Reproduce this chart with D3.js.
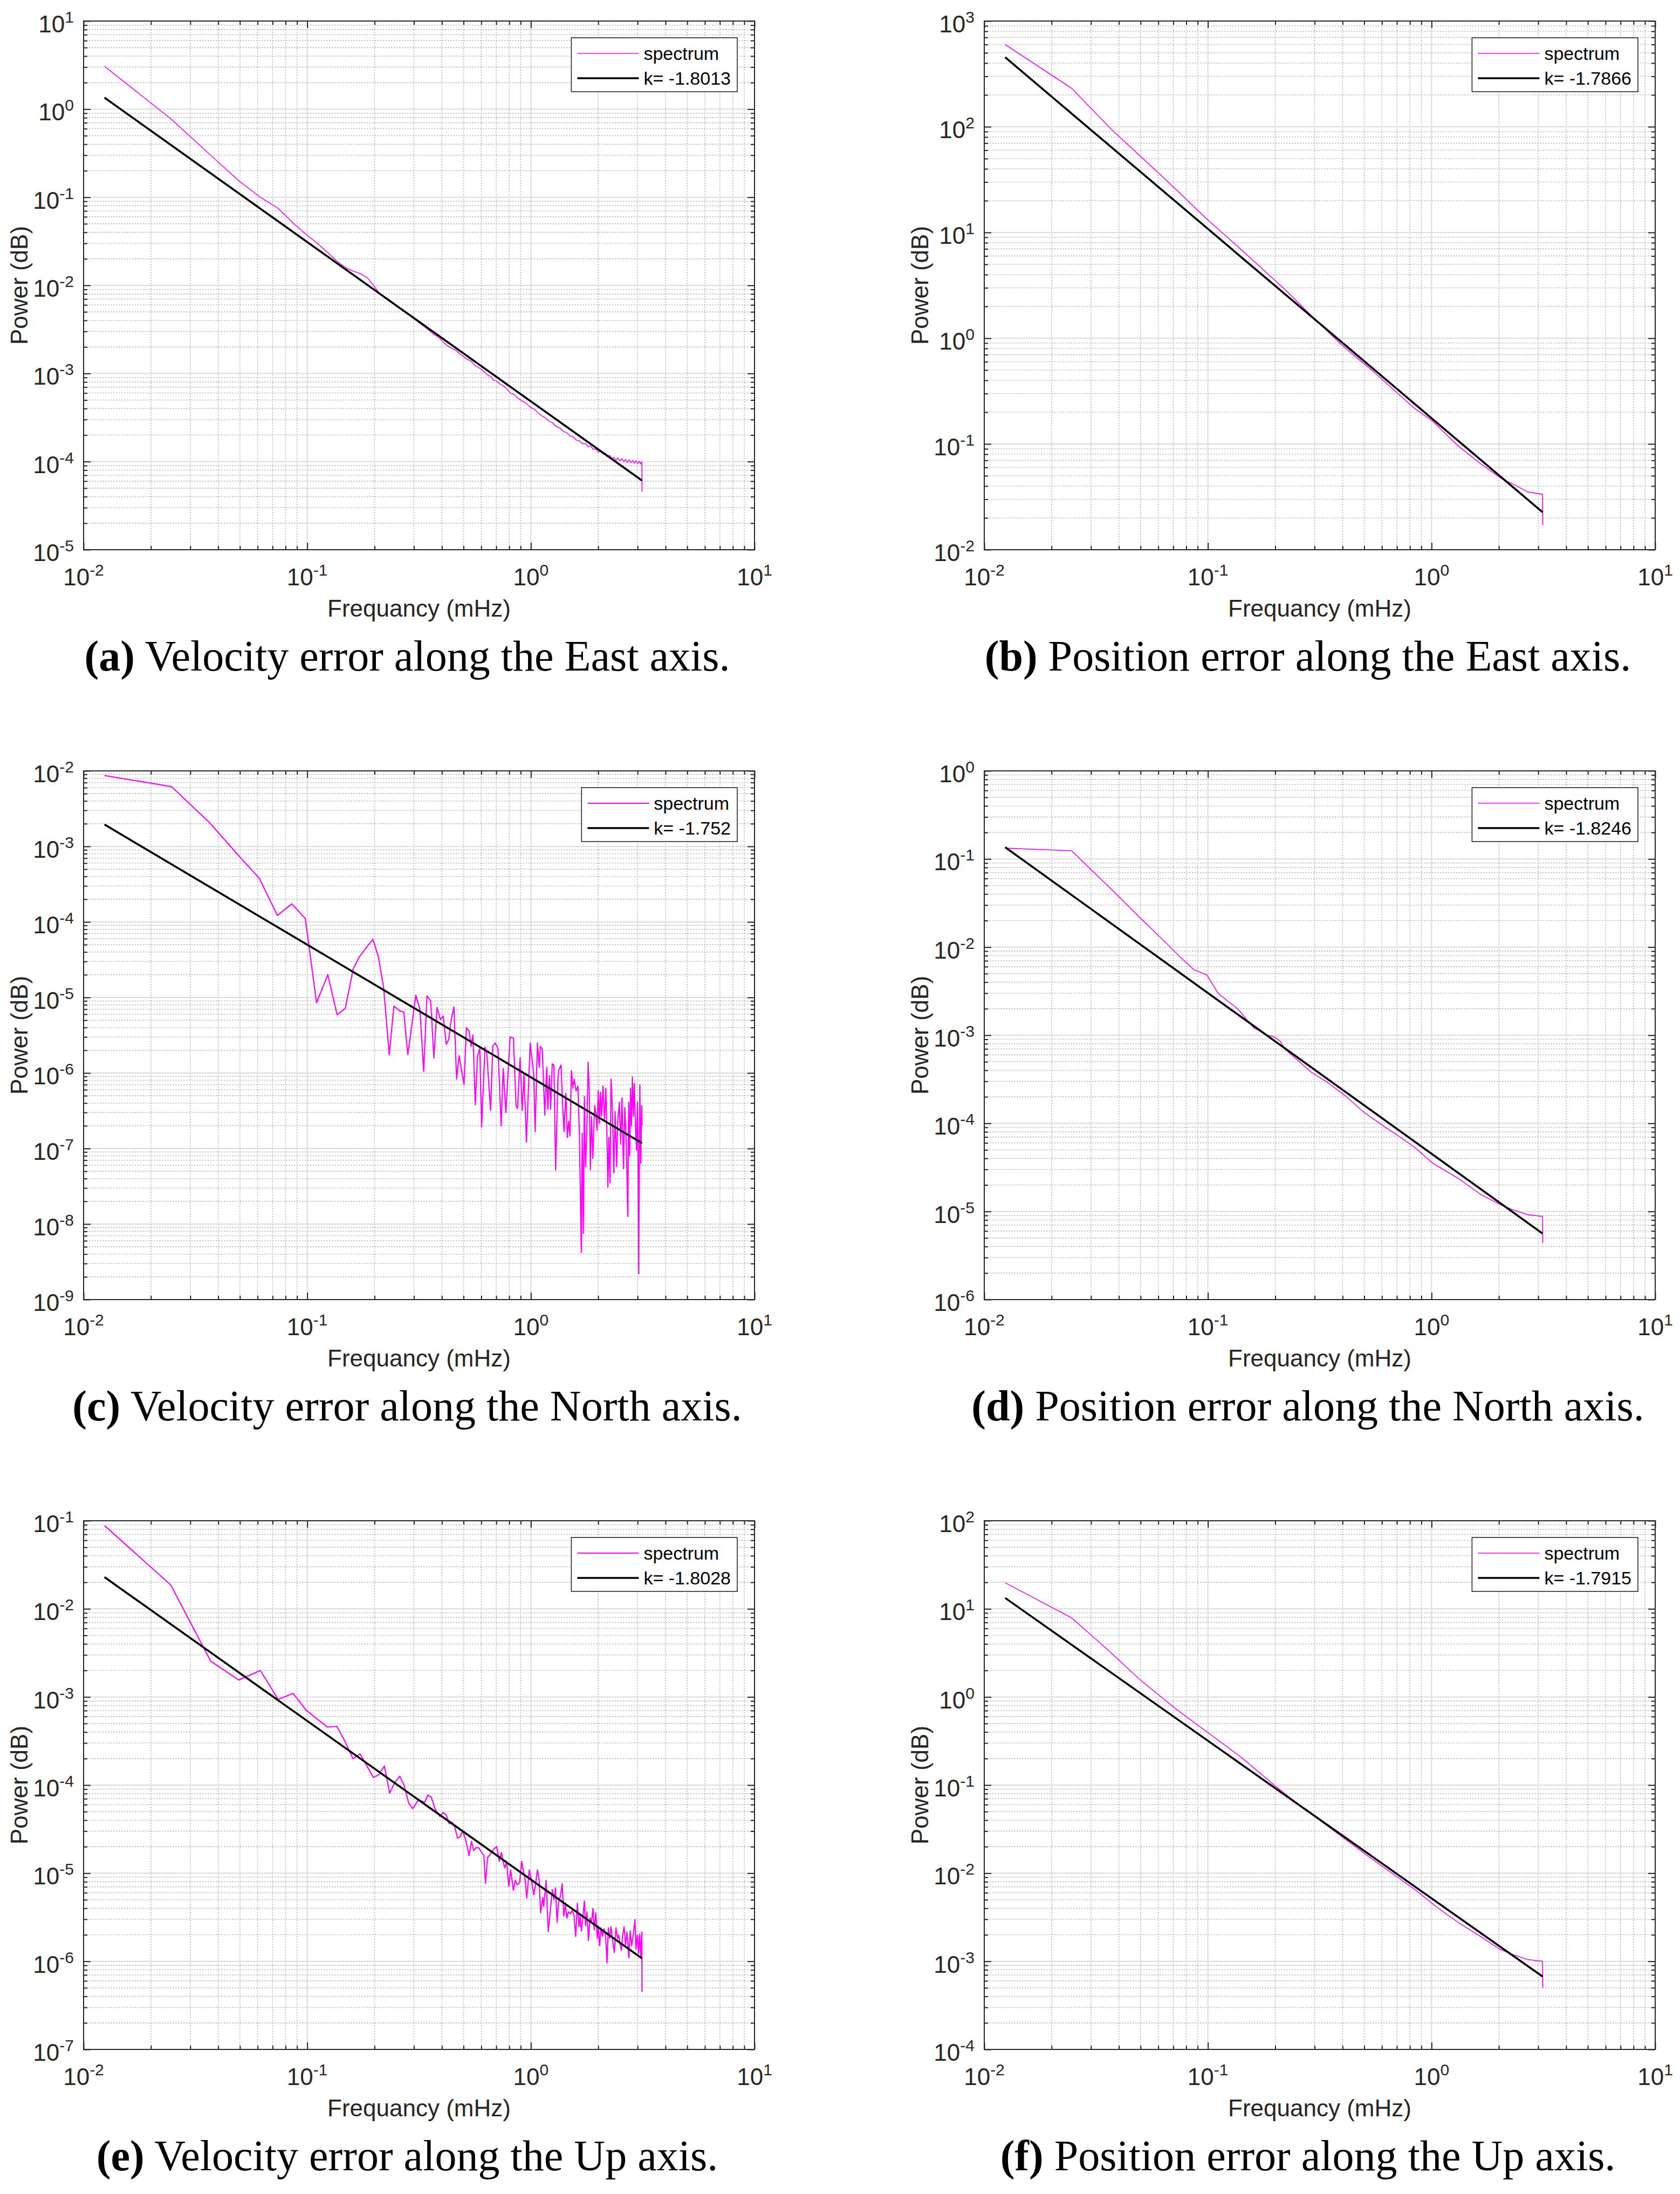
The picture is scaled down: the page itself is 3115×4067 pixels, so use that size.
<!DOCTYPE html>
<html>
<head>
<meta charset="utf-8">
<script src="https://cdn.jsdelivr.net/npm/d3@7"></script>
<style>
  body { margin: 0; background: #fff; }
  svg { display: block; background: #fff; }
  .sans { font-family: "Liberation Sans", Arial, Helvetica, sans-serif; }
  .caption { font-family: "Liberation Serif", "Times New Roman", serif; fill: #000; }
</style>
</head>
<body>
<svg id="chart" width="3115" height="4067"></svg>
<script>
// Values: [frequency in mHz, power]
const velEastSpectrum = [
  [0.0124, 3.07], [0.0245, 0.78], [0.037, 0.30], [0.0497, 0.152], [0.0617, 0.10], [0.0741, 0.075],
  [0.0864, 0.051], [0.0988, 0.038], [0.111, 0.030], [0.1235, 0.0235], [0.136, 0.0187], [0.148, 0.0160],
  [0.160, 0.0146], [0.173, 0.0136], [0.185, 0.0123], [0.198, 0.0100], [0.210, 0.0081], [0.222, 0.0072],
  [0.26, 0.0054], [0.30, 0.0042], [0.35, 3.1e-3], [0.37, 2.75e-3], [0.385, 2.62e-3], [0.40, 2.35e-3],
  [0.42, 2.1e-3], [0.44, 1.95e-3], [0.46, 1.85e-3], [0.48, 1.68e-3], [0.50, 1.55e-3], [0.52, 1.45e-3],
  [0.54, 1.38e-3], [0.56, 1.24e-3], [0.58, 1.18e-3], [0.60, 1.12e-3], [0.62, 1.04e-3], [0.64, 9.6e-4],
  [0.66, 9.3e-4], [0.68, 8.4e-4], [0.70, 8.3e-4], [0.72, 7.7e-4], [0.75, 7.3e-4], [0.78, 6.7e-4],
  [0.81, 6.0e-4], [0.84, 5.8e-4], [0.87, 5.3e-4], [0.90, 5.0e-4], [0.93, 4.75e-4], [0.96, 4.5e-4],
  [1.0, 4.1e-4], [1.04, 3.9e-4], [1.08, 3.55e-4], [1.12, 3.3e-4], [1.16, 3.15e-4], [1.2, 2.9e-4],
  [1.25, 2.75e-4], [1.3, 2.5e-4], [1.35, 2.4e-4], [1.4, 2.2e-4], [1.45, 2.12e-4], [1.5, 1.95e-4],
  [1.55, 1.9e-4], [1.6, 1.75e-4], [1.65, 1.72e-4], [1.7, 1.6e-4], [1.75, 1.62e-4], [1.8, 1.48e-4],
  [1.85, 1.5e-4], [1.9, 1.38e-4], [1.95, 1.40e-4], [2.0, 1.28e-4], [2.05, 1.32e-4], [2.1, 1.22e-4],
  [2.15, 1.25e-4], [2.2, 1.14e-4], [2.25, 1.18e-4], [2.3, 1.08e-4], [2.35, 1.12e-4], [2.4, 1.04e-4],
  [2.45, 1.1e-4], [2.5, 1.02e-4], [2.55, 1.08e-4], [2.6, 1.0e-4], [2.65, 1.06e-4], [2.7, 9.8e-5],
  [2.75, 1.05e-4], [2.8, 9.7e-5], [2.85, 1.03e-4], [2.9, 9.6e-5], [2.95, 1.02e-4], [3.0, 9.5e-5],
  [3.05, 1.01e-4], [3.1, 9.4e-5], [3.13, 1.0e-4], [3.14, 4.6e-5]
];
const velEastFit = [[0.0124, 1.35], [3.14, 6.1e-5]];

const posEastSpectrum = [
  [0.0124, 600], [0.0246, 231], [0.0297, 153], [0.0371, 94], [0.0485, 55.7], [0.0634, 33],
  [0.099, 13.4], [0.1415, 6.84], [0.221, 2.89], [0.289, 1.65], [0.395, 0.87], [0.541, 0.497],
  [0.844, 0.215], [1.009, 0.165], [1.318, 0.0955], [1.648, 0.0656], [2.06, 0.0469], [2.356, 0.041],
  [2.69, 0.0352], [3.13, 0.0335], [3.14, 0.0171]
];
const posEastFit = [[0.0124, 454], [3.14, 0.0226]];

const velNorthSpectrum = [
  [0.0124, 8.7e-3], [0.0247, 6.2e-3], [0.0365, 2.08e-3], [0.0505, 7.0e-4], [0.061, 3.8e-4],
  [0.0735, 1.22e-4], [0.0853, 1.74e-4], [0.098, 1.11e-4], [0.110, 8.5e-6], [0.1235, 2.0e-5],
  [0.136, 5.9e-6], [0.148, 7.2e-6], [0.1605, 2.4e-5], [0.171, 3.47e-5], [0.185, 4.7e-5],
  [0.1965, 5.9e-5], [0.208, 3.47e-5], [0.2196, 1.33e-5], [0.2326, 1.75e-6], [0.244, 7.7e-6],
  [0.2585, 6.7e-6], [0.27, 6.4e-6], [0.2816, 1.75e-6], [0.3058, 1.07e-5], [0.319, 7.0e-6],
  [0.3314, 1.05e-6], [0.3429, 1.05e-5], [0.3565, 9.0e-6], [0.3682, 1.58e-6], [0.3803, 7.4e-6],
  [0.3937, 5.1e-6], [0.4052, 5.7e-6], [0.4184, 2.4e-6], [0.4292, 2.8e-6], [0.439, 4.9e-6],
  [0.4528, 7.5e-6], [0.4652, 8.3e-7], [0.4776, 1.7e-6], [0.5021, 7.0e-7], [0.5147, 4.0e-6],
  [0.5297, 3.6e-6], [0.54, 2.25e-6], [0.5504, 3.2e-6], [0.564, 3.8e-7], [0.5773, 1.7e-6],
  [0.5906, 2.1e-6], [0.602, 1.94e-7], [0.6233, 2.2e-6], [0.6353, 1.8e-6], [0.66, 3.2e-7],
  [0.6755, 2.3e-6], [0.6925, 2.5e-6], [0.7126, 2.1e-6], [0.7362, 2.0e-7], [0.7518, 1.15e-6],
  [0.7723, 3.0e-7], [0.807, 3.0e-6], [0.8353, 2.9e-6], [0.8581, 3.7e-7], [0.871, 3.4e-7],
  [0.895, 1.6e-6], [0.9139, 3.2e-7], [0.9315, 9.6e-7], [0.955, 1.22e-7], [0.9924, 2.5e-6],
  [1.029, 9.6e-7], [1.045, 1.68e-7], [1.069, 2.5e-6], [1.09, 1.19e-6], [1.102, 2.25e-6],
  [1.124, 2.1e-6], [1.154, 2.76e-7], [1.177, 1.19e-6], [1.19, 3.3e-7], [1.211, 9.2e-7],
  [1.225, 3.3e-7], [1.246, 1.32e-6], [1.268, 1.27e-6], [1.29, 5.2e-8], [1.32, 8.3e-7],
  [1.332, 1.1e-6], [1.363, 1.27e-6], [1.384, 4.1e-7], [1.406, 1.68e-7], [1.433, 5.4e-7],
  [1.455, 1.4e-7], [1.475, 2.3e-7], [1.495, 1.46e-7], [1.518, 1.07e-6], [1.541, 6.3e-7],
  [1.562, 8.3e-7], [1.592, 5.8e-7], [1.623, 6.7e-7], [1.648, 1.5e-7], [1.68, 4.2e-9],
  [1.696, 1.6e-7], [1.716, 7.5e-9], [1.735, 4.9e-7], [1.755, 5.8e-8], [1.775, 1.3e-7],
  [1.803, 1.39e-6], [1.824, 5.4e-7], [1.845, 5.2e-8], [1.866, 2.67e-7], [1.891, 7.4e-8],
  [1.928, 3.7e-7], [1.954, 2.9e-7], [1.977, 1.74e-7], [2.0, 5.8e-7], [2.023, 2.15e-7],
  [2.046, 5.6e-7], [2.07, 2.67e-7], [2.101, 6.7e-7], [2.134, 2.3e-7], [2.163, 6.3e-7],
  [2.184, 2.0e-7], [2.209, 3.1e-8], [2.234, 1.4e-7], [2.26, 3.5e-8], [2.282, 8.3e-7],
  [2.313, 3.5e-7], [2.349, 4.8e-8], [2.38, 3.1e-7], [2.416, 5.8e-8], [2.449, 2.5e-7],
  [2.487, 4.1e-7], [2.521, 1.14e-7], [2.555, 4.7e-7], [2.594, 5.4e-8], [2.63, 3.5e-7],
  [2.67, 1.22e-7], [2.711, 1.26e-8], [2.737, 4.1e-7], [2.763, 8.0e-8], [2.79, 6.3e-7],
  [2.816, 2.0e-7], [2.844, 8.9e-7], [2.871, 2.67e-7], [2.899, 7.2e-7], [2.938, 1.74e-7],
  [2.967, 9.5e-8], [2.995, 4.1e-7], [3.012, 1.74e-7], [3.034, 2.2e-9], [3.07, 7.0e-7],
  [3.1, 6.4e-8], [3.129, 3.7e-7], [3.14, 2.0e-7]
];
const velNorthFit = [[0.0124, 1.95e-3], [3.14, 1.18e-7]];

const posNorthSpectrum = [
  [0.0124, 0.133], [0.0246, 0.124], [0.037, 0.0454], [0.0494, 0.0219], [0.0617, 0.0127],
  [0.0741, 0.0080], [0.0864, 0.00555], [0.0988, 0.00485], [0.111, 0.0030], [0.1235, 0.00241],
  [0.1358, 0.0020], [0.148, 0.00154], [0.1605, 0.00121], [0.173, 0.0011], [0.185, 0.00100],
  [0.1976, 0.00096], [0.21, 0.00086], [0.222, 0.00069], [0.289, 3.83e-4], [0.346, 2.87e-4],
  [0.413, 2.04e-4], [0.494, 1.36e-4], [0.618, 9.1e-5], [0.706, 7.3e-5], [0.844, 5.3e-5],
  [1.009, 3.55e-5], [1.318, 2.37e-5], [1.648, 1.58e-5], [2.01, 1.21e-5], [2.30, 1.05e-5],
  [2.69, 9.2e-6], [3.13, 8.8e-6], [3.14, 4.4e-6]
];
const posNorthFit = [[0.0124, 0.136], [3.14, 5.6e-6]];

const velUpSpectrum = [
  [0.0124, 0.0882], [0.0245, 0.01875], [0.037, 2.55e-3], [0.0494, 1.56e-3], [0.0617, 2.0e-3],
  [0.0741, 9.4e-4], [0.0864, 1.1e-3], [0.0988, 7.1e-4], [0.111, 5.6e-4], [0.1234, 4.55e-4],
  [0.1355, 4.65e-4], [0.1469, 3.2e-4], [0.16, 2.0e-4], [0.1722, 2.26e-4], [0.1816, 1.78e-4],
  [0.1977, 1.22e-4], [0.2086, 1.31e-4], [0.2213, 1.65e-4], [0.2335, 8.1e-5], [0.2456, 1.06e-4],
  [0.259, 1.26e-4], [0.271, 1.0e-4], [0.2838, 6.3e-5], [0.296, 5.4e-5], [0.314, 6.8e-5],
  [0.335, 6.4e-5], [0.346, 7.7e-5], [0.3583, 7.3e-5], [0.374, 5.3e-5], [0.392, 4.4e-5],
  [0.4055, 4.9e-5], [0.418, 4.6e-5], [0.431, 3.66e-5], [0.443, 3.8e-5], [0.4545, 3.5e-5],
  [0.4695, 2.5e-5], [0.4826, 2.6e-5], [0.495, 3.05e-5], [0.514, 2.25e-5], [0.529, 1.59e-5],
  [0.5424, 2.3e-5], [0.554, 1.82e-5], [0.5696, 1.95e-5], [0.5867, 1.93e-5], [0.6031, 1.7e-5],
  [0.616, 1.6e-5], [0.6266, 7.7e-6], [0.640, 1.5e-5], [0.661, 1.68e-5], [0.681, 1.88e-5],
  [0.703, 2.0e-5], [0.7226, 1.37e-5], [0.738, 1.72e-5], [0.754, 1.3e-5], [0.765, 1.15e-5],
  [0.778, 1.35e-5], [0.797, 7.1e-6], [0.812, 1.09e-5], [0.835, 6.4e-6], [0.851, 8.3e-6],
  [0.869, 7.4e-6], [0.890, 7.8e-6], [0.909, 1.36e-5], [0.928, 1.03e-5], [0.942, 8.5e-6],
  [0.958, 5.2e-6], [0.983, 1.09e-5], [1.009, 7.8e-6], [1.030, 5.7e-6], [1.048, 7.4e-6],
  [1.070, 1.09e-5], [1.089, 8.2e-6], [1.105, 3.56e-6], [1.129, 5.3e-6], [1.141, 4.2e-6],
  [1.170, 8.3e-6], [1.195, 2.17e-6], [1.221, 3.76e-6], [1.247, 6.5e-6], [1.268, 5.0e-6],
  [1.288, 6.8e-6], [1.310, 2.77e-6], [1.332, 5.0e-6], [1.352, 5.3e-6], [1.381, 7.6e-6],
  [1.402, 3.27e-6], [1.426, 4.4e-6], [1.449, 3.1e-6], [1.471, 3.65e-6], [1.503, 3.46e-6],
  [1.530, 3.76e-6], [1.558, 3.37e-6], [1.586, 1.92e-6], [1.613, 4.57e-6], [1.641, 2.47e-6],
  [1.661, 3.27e-6], [1.682, 2.21e-6], [1.707, 3.1e-6], [1.734, 4.84e-6], [1.756, 2.54e-6],
  [1.782, 3.65e-6], [1.808, 1.72e-6], [1.839, 3.1e-6], [1.866, 2.77e-6], [1.895, 3.98e-6],
  [1.920, 2.28e-6], [1.951, 3.56e-6], [1.981, 1.82e-6], [2.0, 2.54e-6], [2.028, 1.5e-6],
  [2.058, 2.4e-6], [2.089, 1.92e-6], [2.122, 2.34e-6], [2.156, 2.03e-6], [2.190, 9.6e-7],
  [2.22, 2.4e-6], [2.25, 1.82e-6], [2.28, 2.47e-6], [2.32, 1.72e-6], [2.36, 1.26e-6],
  [2.40, 2.4e-6], [2.44, 1.82e-6], [2.47, 1.98e-6], [2.50, 1.58e-6], [2.54, 1.34e-6],
  [2.57, 1.92e-6], [2.61, 2.47e-6], [2.65, 1.54e-6], [2.69, 2.15e-6], [2.74, 1.1e-6],
  [2.78, 2.21e-6], [2.82, 1.5e-6], [2.87, 2.03e-6], [2.92, 2.97e-6], [2.95, 1.37e-6],
  [2.99, 1.98e-6], [3.03, 1.23e-6], [3.06, 2.03e-6], [3.10, 1.16e-6], [3.13, 2.15e-6],
  [3.14, 4.5e-7]
];
const velUpFit = [[0.0124, 0.0229], [3.14, 1.08e-6]];

const posUpSpectrum = [
  [0.0124, 19.8], [0.0246, 7.9], [0.0355, 3.47], [0.0504, 1.52], [0.0725, 0.721], [0.099, 0.402],
  [0.1415, 0.205], [0.2023, 0.0955], [0.253, 0.061], [0.378, 0.0285], [0.541, 0.0145],
  [0.844, 6.5e-3], [1.055, 4.13e-3], [1.318, 2.75e-3], [1.648, 1.93e-3], [2.01, 1.38e-3],
  [2.356, 1.17e-3], [2.69, 1.05e-3], [3.13, 1.0e-3], [3.14, 5.0e-4]
];
const posUpFit = [[0.0124, 13.3], [3.14, 6.7e-4]];

const panelLetters = ['(a)', '(b)', '(c)', '(d)', '(e)', '(f)'];
const captionTexts = [
  'Velocity error along the East axis.', 'Position error along the East axis.',
  'Velocity error along the North axis.', 'Position error along the North axis.',
  'Velocity error along the Up axis.', 'Position error along the Up axis.'
];
const fitLabels = ['k= -1.8013', 'k= -1.7866', 'k= -1.752', 'k= -1.8246', 'k= -1.8028', 'k= -1.7915'];
const yExponents = [[-5, 1], [-2, 3], [-9, -2], [-6, 0], [-7, -1], [-4, 2]];
const xExponents = [-2, 1];
const spectra = [velEastSpectrum, posEastSpectrum, velNorthSpectrum, posNorthSpectrum, velUpSpectrum, posUpSpectrum];
const fits = [velEastFit, posEastFit, velNorthFit, posNorthFit, velUpFit, posUpFit];

// Layout (pixels)
const W = 1244, H = 980;
const colLeft = [155, 1825];
const rowTop = [39, 1429, 2819];
const spectrumWidth = [1.6, 1.6, 2.2, 1.6, 2.2, 1.6];
const ink = '#262626';

const svg = d3.select('#chart');

function decades(lo, hi) {
  return d3.range(lo, hi + 1).map(e => Math.pow(10, e));
}

function minors(lo, hi) {
  const out = [];
  for (let e = lo; e < hi; e++) {
    for (let m = 2; m <= 9; m++) out.push(m * Math.pow(10, e));
  }
  return out;
}

function powerLabel(sel, exponent) {
  sel.append('tspan').text('10');
  sel.append('tspan').attr('dy', -18).attr('font-size', 30).text(String(exponent));
}

let captionNodes = [];

function drawPanel(i) {
  const left = colLeft[i % 2], top = rowTop[Math.floor(i / 2)];
  const [ylo, yhi] = yExponents[i];
  const g = svg.append('g').attr('transform', `translate(${left},${top})`);

  const x = d3.scaleLog().domain([Math.pow(10, xExponents[0]), Math.pow(10, xExponents[1])]).range([0, W]);
  const y = d3.scaleLog().domain([Math.pow(10, ylo), Math.pow(10, yhi)]).range([H, 0]);

  const xMajor = decades(xExponents[0], xExponents[1]);
  const yMajor = decades(ylo, yhi);
  const xMinor = minors(xExponents[0], xExponents[1]);
  const yMinor = minors(ylo, yhi);

  // grid
  const grid = g.append('g');
  grid.selectAll('.vminor').data(xMinor).join('line')
    .attr('x1', d => x(d)).attr('x2', d => x(d)).attr('y1', 0).attr('y2', H)
    .attr('stroke', '#bdbdbd').attr('stroke-width', 1.6).attr('stroke-dasharray', '2.5,2.5');
  grid.selectAll('.hminor').data(yMinor).join('line')
    .attr('x1', 0).attr('x2', W).attr('y1', d => y(d)).attr('y2', d => y(d))
    .attr('stroke', '#bdbdbd').attr('stroke-width', 1.6).attr('stroke-dasharray', '2.5,2.5');
  grid.selectAll('.vmajor').data(xMajor.slice(1, -1)).join('line')
    .attr('x1', d => x(d)).attr('x2', d => x(d)).attr('y1', 0).attr('y2', H)
    .attr('stroke', '#dcdcdc').attr('stroke-width', 2);
  grid.selectAll('.hmajor').data(yMajor.slice(1, -1)).join('line')
    .attr('x1', 0).attr('x2', W).attr('y1', d => y(d)).attr('y2', d => y(d))
    .attr('stroke', '#dcdcdc').attr('stroke-width', 2);

  // series
  const line = d3.line().x(d => x(d[0])).y(d => y(d[1]));
  g.append('path').datum(spectra[i]).attr('d', line)
    .attr('fill', 'none').attr('stroke', '#ff00ff').attr('stroke-width', spectrumWidth[i])
    .attr('stroke-linejoin', 'round');
  g.append('path').datum(fits[i]).attr('d', line)
    .attr('fill', 'none').attr('stroke', '#000').attr('stroke-width', 3.6);

  // ticks on all four sides, pointing inward
  const axes = [
    [d3.axisBottom(x), `translate(0,${H})`, xMajor, xMinor],
    [d3.axisTop(x), 'translate(0,0)', xMajor, xMinor],
    [d3.axisLeft(y), 'translate(0,0)', yMajor, yMinor],
    [d3.axisRight(y), `translate(${W},0)`, yMajor, yMinor]
  ];
  axes.forEach(([axis, tr, major, minor]) => {
    [[major, 13], [minor, 7]].forEach(([vals, len]) => {
      g.append('g').attr('transform', tr).attr('color', ink)
        .call(axis.tickValues(vals).tickSize(-len).tickFormat(''))
        .call(a => a.select('.domain').remove())
        .call(a => a.selectAll('line').attr('stroke-width', 2));
    });
  });
  g.append('rect').attr('width', W).attr('height', H)
    .attr('fill', 'none').attr('stroke', ink).attr('stroke-width', 2);

  // tick labels
  xMajor.forEach((v, k) => {
    const t = g.append('text').attr('class', 'sans').attr('font-size', 44).attr('fill', ink)
      .attr('text-anchor', 'middle').attr('x', x(v)).attr('y', H + 66);
    powerLabel(t, xExponents[0] + k);
  });
  yMajor.forEach((v, k) => {
    const t = g.append('text').attr('class', 'sans').attr('font-size', 44).attr('fill', ink)
      .attr('text-anchor', 'end').attr('x', -18).attr('y', y(v) + 21);
    powerLabel(t, ylo + k);
  });

  // axis labels
  g.append('text').attr('class', 'sans').attr('font-size', 44).attr('fill', ink)
    .attr('text-anchor', 'middle').attr('x', W / 2).attr('y', H + 124)
    .text('Frequancy (mHz)');
  g.append('text').attr('class', 'sans').attr('font-size', 44).attr('fill', ink)
    .attr('text-anchor', 'middle')
    .attr('transform', `translate(-104,${H / 2}) rotate(-90)`)
    .text('Power (dB)');

  // legend
  const lg = g.append('g');
  const labels = ['spectrum', fitLabels[i]];
  const texts = labels.map((s, r) => lg.append('text').attr('class', 'sans')
    .attr('font-size', 34).attr('fill', '#000').attr('x', 134).attr('y', 29 + r * 46 + 12).text(s));
  const textW = d3.max(texts, t => t.node().getComputedTextLength());
  const lw = 134 + textW + 12;
  lg.insert('rect', 'text').attr('width', lw).attr('height', 100)
    .attr('fill', '#fff').attr('stroke', ink).attr('stroke-width', 1.6);
  lg.append('line').attr('x1', 11).attr('x2', 125).attr('y1', 29).attr('y2', 29)
    .attr('stroke', '#ff00ff').attr('stroke-width', spectrumWidth[i]);
  lg.append('line').attr('x1', 11).attr('x2', 125).attr('y1', 75).attr('y2', 75)
    .attr('stroke', '#000').attr('stroke-width', 3.6);
  lg.attr('transform', `translate(${W - 32 - lw},31)`);

  // caption
  const cap = g.append('text').attr('class', 'caption').attr('font-size', 100)
    .attr('text-anchor', 'middle').attr('x', 600).attr('y', H + 224);
  cap.append('tspan').attr('font-weight', 'bold').text(panelLetters[i]);
  cap.append('tspan').text(' ' + captionTexts[i]);
  captionNodes.push(cap);
}

d3.range(6).forEach(drawPanel);

// size captions so that the first one spans its measured width
const targetWidth = 1197;
const measured = captionNodes[0].node().getComputedTextLength();
const capSize = 100 * targetWidth / measured;
captionNodes.forEach(c => c.attr('font-size', capSize));
</script>
</body>
</html>
